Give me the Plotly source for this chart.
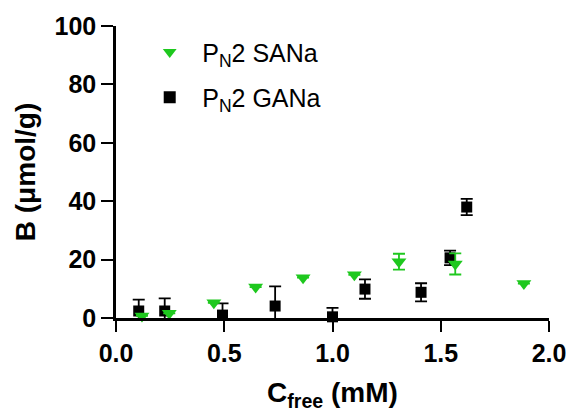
import plotly.graph_objects as go

# P_N2 SANa
sana_x = [0.12, 0.246, 0.452, 0.645, 0.864, 1.101, 1.307, 1.567, 1.884]
sana_y = [0.7, 1.6, 5.2, 10.6, 13.8, 14.8, 19.3, 18.5, 11.8]
sana_err = [0, 0, 0, 0, 0, 0, 2.7, 3.6, 0]

# P_N2 GANa
gana_x = [0.105, 0.225, 0.492, 0.735, 1.0, 1.15, 1.409, 1.543, 1.62]
gana_y = [2.4, 2.4, 1.0, 4.1, 0.4, 9.9, 8.8, 20.6, 38.0]
gana_err = [3.9, 4.3, 4.0, 6.7, 3.1, 3.3, 3.1, 2.5, 2.8]

x_ticks = [0.0, 0.5, 1.0, 1.5, 2.0]
y_ticks = [0, 20, 40, 60, 80, 100]

GREEN = "#1ec81e"
FONT = "Liberation Sans, Arial, sans-serif"

fig = go.Figure()
fig.add_trace(go.Scatter(
    x=gana_x, y=gana_y, mode="markers", name="P<sub>N</sub>2 GANa",
    marker=dict(symbol="square", size=11, color="black"),
    error_y=dict(type="data", array=gana_err, color="black",
                 thickness=1.8, width=6),
    cliponaxis=False, legend="legend2",
))
fig.add_trace(go.Scatter(
    x=sana_x, y=sana_y, mode="markers", name="P<sub>N</sub>2 SANa",
    marker=dict(symbol="triangle-down", size=13, color=GREEN),
    error_y=dict(type="data", array=sana_err, color=GREEN,
                 thickness=1.8, width=6),
    cliponaxis=False, legend="legend",
))

legend_style = dict(xanchor="left", yanchor="middle",
                    bgcolor="rgba(0,0,0,0)",
                    font=dict(size=25, family=FONT),
                    itemsizing="constant", itemwidth=55)

fig.update_layout(
    width=578, height=416,
    margin=dict(l=116, r=23, t=24, b=98),
    paper_bgcolor="white", plot_bgcolor="white",
    font=dict(family=FONT, color="black"),
    showlegend=True,
    legend=dict(x=0.049, y=0.91, **legend_style),
    legend2=dict(x=0.049, y=0.755, **legend_style),
    xaxis=dict(
        range=[0, 2.0], tickvals=x_ticks,
        ticktext=[f"{v:.1f}" for v in x_ticks],
        showgrid=False, zeroline=False,
        showline=True, linecolor="black", linewidth=2.5,
        ticks="outside", ticklen=11, tickwidth=2, tickcolor="black",
        tickfont=dict(size=25, family=FONT, weight="bold"),
        title=dict(text="<b>C<sub>free</sub> (mM)</b>",
                   font=dict(size=28, family=FONT), standoff=17),
    ),
    yaxis=dict(
        range=[0, 100], tickvals=y_ticks,
        showgrid=False, zeroline=False,
        showline=True, linecolor="black", linewidth=2.5,
        ticks="outside", ticklen=12, tickwidth=2, tickcolor="black",
        tickfont=dict(size=25, family=FONT, weight="bold"),
        title=dict(text="<b>B (μmol/g)</b>",
                   font=dict(size=28, family=FONT), standoff=11),
    ),
)

fig.write_html("out.html")
